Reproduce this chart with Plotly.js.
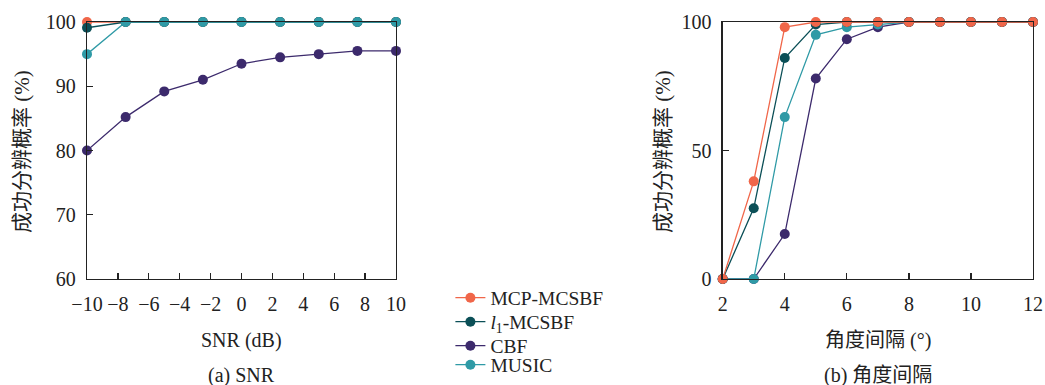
<!DOCTYPE html>
<html><head><meta charset="utf-8">
<script src="https://cdn.plot.ly/plotly-3.0.1.min.js"></script>
<style>html,body{margin:0;padding:0;background:#fff}#c{width:1045px;height:385px}</style>
</head><body><div id="c"></div>
<script>
// Panel (a): SNR
const snr = [-10, -7.5, -5, -2.5, 0, 2.5, 5, 7.5, 10];
const snrMCP = [100, 100, 100, 100, 100, 100, 100, 100, 100];
const snrL1 = [99.1, 100, 100, 100, 100, 100, 100, 100, 100];
const snrCBF = [80, 85.2, 89.2, 91.0, 93.5, 94.5, 95.0, 95.5, 95.5];
const snrMUSIC = [95, 100, 100, 100, 100, 100, 100, 100, 100];
// Panel (b): angle separation
const ang = [2, 3, 4, 5, 6, 7, 8, 9, 10, 11, 12];
const angMCP = [0, 38, 98, 100, 100, 100, 100, 100, 100, 100, 100];
const angL1 = [0, 27.5, 86, 99, 100, 100, 100, 100, 100, 100, 100];
const angCBF = [0, 0, 17.5, 78, 93.3, 98, 100, 100, 100, 100, 100];
const angMUSIC = [0, 0, 63, 95, 98, 99, 100, 100, 100, 100, 100];

const names = ['MCP-MCSBF', '<i>l</i><sub>1</sub>-MCSBF', 'CBF', 'MUSIC'];
const colors = ['#F06649', '#0B4F57', '#3C2A6C', '#2F9AA6'];
const legendIds = ['legend', 'legend2', 'legend3', 'legend4'];

function tr(x, y, i, ax, show) {
  return {x: x, y: y, name: names[i], type: 'scatter', mode: 'lines+markers',
    xaxis: ax === 1 ? 'x' : 'x2', yaxis: ax === 1 ? 'y' : 'y2',
    line: {color: colors[i], width: 1.3}, marker: {color: colors[i], size: 10},
    cliponaxis: false, showlegend: show, legend: legendIds[i]};
}
const data = [
  tr(snr, snrMCP, 0, 1, true), tr(snr, snrL1, 1, 1, true), tr(snr, snrCBF, 2, 1, true), tr(snr, snrMUSIC, 3, 1, true),
  tr(ang, angCBF, 2, 2, false), tr(ang, angMUSIC, 3, 2, false), tr(ang, angL1, 1, 2, false), tr(ang, angMCP, 0, 2, false)
];
const tf = {family: 'Liberation Serif, serif', size: 20, color: '#222'};
const lf = {family: 'Liberation Serif, serif', size: 19.5, color: '#222'};
const cjkY = {family: 'Liberation Serif, Noto Sans CJK SC, serif', size: 21, color: '#222'};
const cjkX = {family: 'Liberation Serif, Noto Sans CJK SC, serif', size: 20, color: '#222'};
const axBase = {showgrid: false, zeroline: false, showline: true, mirror: true, linecolor: '#222', linewidth: 1.3,
  ticks: 'inside', ticklen: 6, tickcolor: '#222', tickwidth: 1.3, tickfont: tf, ticklabelstandoff: 6, automargin: false};
const W = 1045, H = 385, MB = 40, PH = H - MB;
const fy = p => (PH - p) / PH;
function leg(py, anchor) {
  return {x: 0.431, y: fy(py), xanchor: 'left', yanchor: anchor || 'middle', font: lf, bgcolor: 'rgba(0,0,0,0)', itemwidth: 30};
}
function ann(text, px, py, font, angle) {
  return {text: text, x: px / W, y: fy(py), xref: 'paper', yref: 'paper', xanchor: 'center', yanchor: 'middle',
    showarrow: false, font: font, textangle: angle || 0};
}
const layout = {
  width: W, height: H, margin: {l: 0, r: 0, t: 0, b: MB}, paper_bgcolor: '#fff', plot_bgcolor: '#fff',
  showlegend: true,
  legend: leg(298), legend2: leg(322), legend3: leg(346), legend4: leg(384.5, 'bottom'),
  xaxis: Object.assign({}, axBase, {domain: [87 / W, 396 / W], range: [-10, 10], dtick: 2, anchor: 'y', ticklabelstandoff: 7}),
  yaxis: Object.assign({}, axBase, {domain: [fy(279), fy(22)], range: [60, 100], dtick: 10, anchor: 'x'}),
  xaxis2: Object.assign({}, axBase, {domain: [722.7 / W, 1033 / W], range: [2, 12], dtick: 2, anchor: 'y2', ticklabelstandoff: 7}),
  yaxis2: Object.assign({}, axBase, {domain: [fy(279), fy(22)], range: [0, 100], dtick: 50, anchor: 'x2'}),
  annotations: [
    ann('SNR (dB)', 241, 340, tf),
    ann('(a) SNR', 241, 375, tf),
    ann('成功分辨概率 (%)', 22, 152, cjkY, -90),
    ann('角度间隔 (°)', 878, 340, cjkX),
    ann('(b) 角度间隔', 878, 375, cjkX),
    ann('成功分辨概率 (%)', 663, 152, cjkY, -90)
  ]
};
Plotly.newPlot('c', data, layout, {displayModeBar: false, staticPlot: true});
</script></body></html>
